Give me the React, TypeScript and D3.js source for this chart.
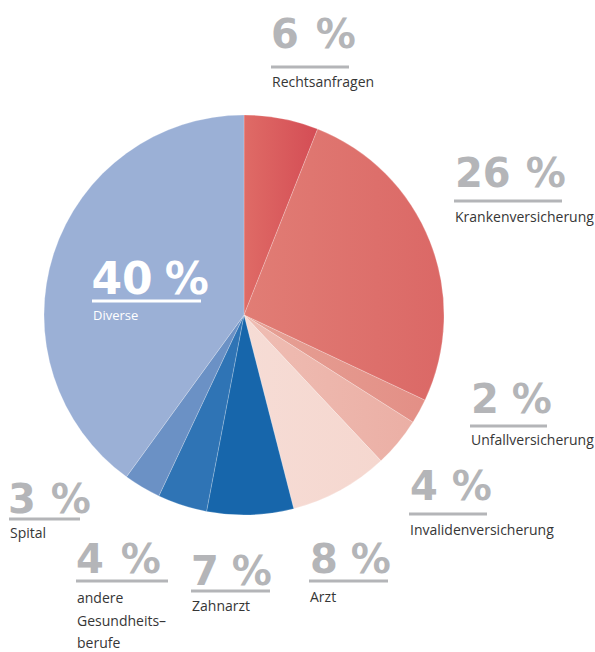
import React from "react";
import * as d3 from "d3";

const categories = [
  "Rechtsanfragen",
  "Krankenversicherung",
  "Unfallversicherung",
  "Invalidenversicherung",
  "Arzt",
  "Zahnarzt",
  "andere Gesundheitsberufe",
  "Spital",
  "Diverse",
];
const values = [6, 26, 2, 4, 8, 7, 4, 3, 40];
const labelLines = [
  ["Rechtsanfragen"],
  ["Krankenversicherung"],
  ["Unfallversicherung"],
  ["Invalidenversicherung"],
  ["Arzt"],
  ["Zahnarzt"],
  ["andere", "Gesundheits\u2013", "berufe"],
  ["Spital"],
  ["Diverse"],
];
const colorsLeft = ["#df6b66", "#e17d75", "#e6a195", "#efbdb3", "#f6dcd5", "#1766ab", "#2f74b5", "#6b91c5", "#9bb0d6"];
const colorsRight = ["#d44d55", "#db6866", "#e38f86", "#ebafa5", "#f5d7cf", "#1766ab", "#2f74b5", "#6b91c5", "#9bb0d6"];

// annotation layout: number x/baseline, gap before %, underline y and span, label baseline
const labelLayout = [
  { x: 271, ny: 48, gap: 17, ly: 67, lx1: 271, lx2: 349, ty: 87, fs: 40 },
  { x: 455, ny: 187, gap: 15, ly: 201, lx1: 454, lx2: 562, ty: 222, fs: 40 },
  { x: 471, ny: 413, gap: 13, ly: 426, lx1: 470, lx2: 547, ty: 445, fs: 40 },
  { x: 410, ny: 500, gap: 14, ly: 514, lx1: 409, lx2: 487, ty: 535, fs: 40 },
  { x: 310, ny: 573, gap: 13, ly: 581, lx1: 309, lx2: 388, ty: 602, fs: 40 },
  { x: 191, ny: 585, gap: 13, ly: 591, lx1: 191, lx2: 270, ty: 611, fs: 40 },
  { x: 76, ny: 573, gap: 17, ly: 581, lx1: 76, lx2: 168, ty: 603, fs: 40 },
  { x: 8, ny: 513, gap: 15, ly: 519, lx1: 9, lx2: 80, ty: 538, fs: 40 },
  { x: 91.5, ny: 294, gap: 12, ly: 301, lx1: 92, lx2: 201, ty: 320, fs: 44 },
];

const W = 595;
const H = 652;
const cx = 244;
const cy = 315;
const R = 200;

export default function App() {
  const pie = d3.pie<number>().value((d) => d).sort(null);
  const arcs = pie(values);
  const arcGen = d3.arc<d3.PieArcDatum<number>>().innerRadius(0).outerRadius(R);

  return (
    <svg width={W} height={H} style={{ position: "absolute", left: 0, top: 0 }}>
      <defs>
        {values.map((_, i) => (
          <linearGradient key={i} id={`g${i}`} x1="0" y1="0" x2="1" y2="0">
            <stop offset="0" stopColor={colorsLeft[i]} />
            <stop offset="1" stopColor={colorsRight[i]} />
          </linearGradient>
        ))}
      </defs>
      <g transform={`translate(${cx},${cy})`}>
        {arcs.map((a, i) => (
          <path
            key={categories[i]}
            d={arcGen(a) || ""}
            fill={`url(#g${i})`}
            stroke="#ffffff"
            strokeOpacity={0.35}
            strokeWidth={0.6}
          />
        ))}
      </g>
      {values.map((v, i) => {
        const L = labelLayout[i];
        const inside = i === 8;
        const numColor = inside ? "#ffffff" : "#b4b5b8";
        const textColor = inside ? "#ffffff" : "#363636";
        return (
          <g key={i}>
            <text
              x={L.x}
              y={L.ny}
              fill={numColor}
              fontWeight={700}
              fontFamily="'DejaVu Sans', sans-serif"
              fontSize={L.fs}
            >
              {String(v)}
              <tspan dx={L.gap}>%</tspan>
            </text>
            <line x1={L.lx1} x2={L.lx2} y1={L.ly} y2={L.ly} stroke={numColor} strokeWidth={3} />
            {labelLines[i].map((t, j) => (
              <text
                key={j}
                x={L.lx1 + 1}
                y={L.ty + j * 22.5}
                fill={textColor}
                fontFamily="'Open Sans', sans-serif"
                fontSize={inside ? 13 : 14}
              >
                {t}
              </text>
            ))}
          </g>
        );
      })}
    </svg>
  );
}
